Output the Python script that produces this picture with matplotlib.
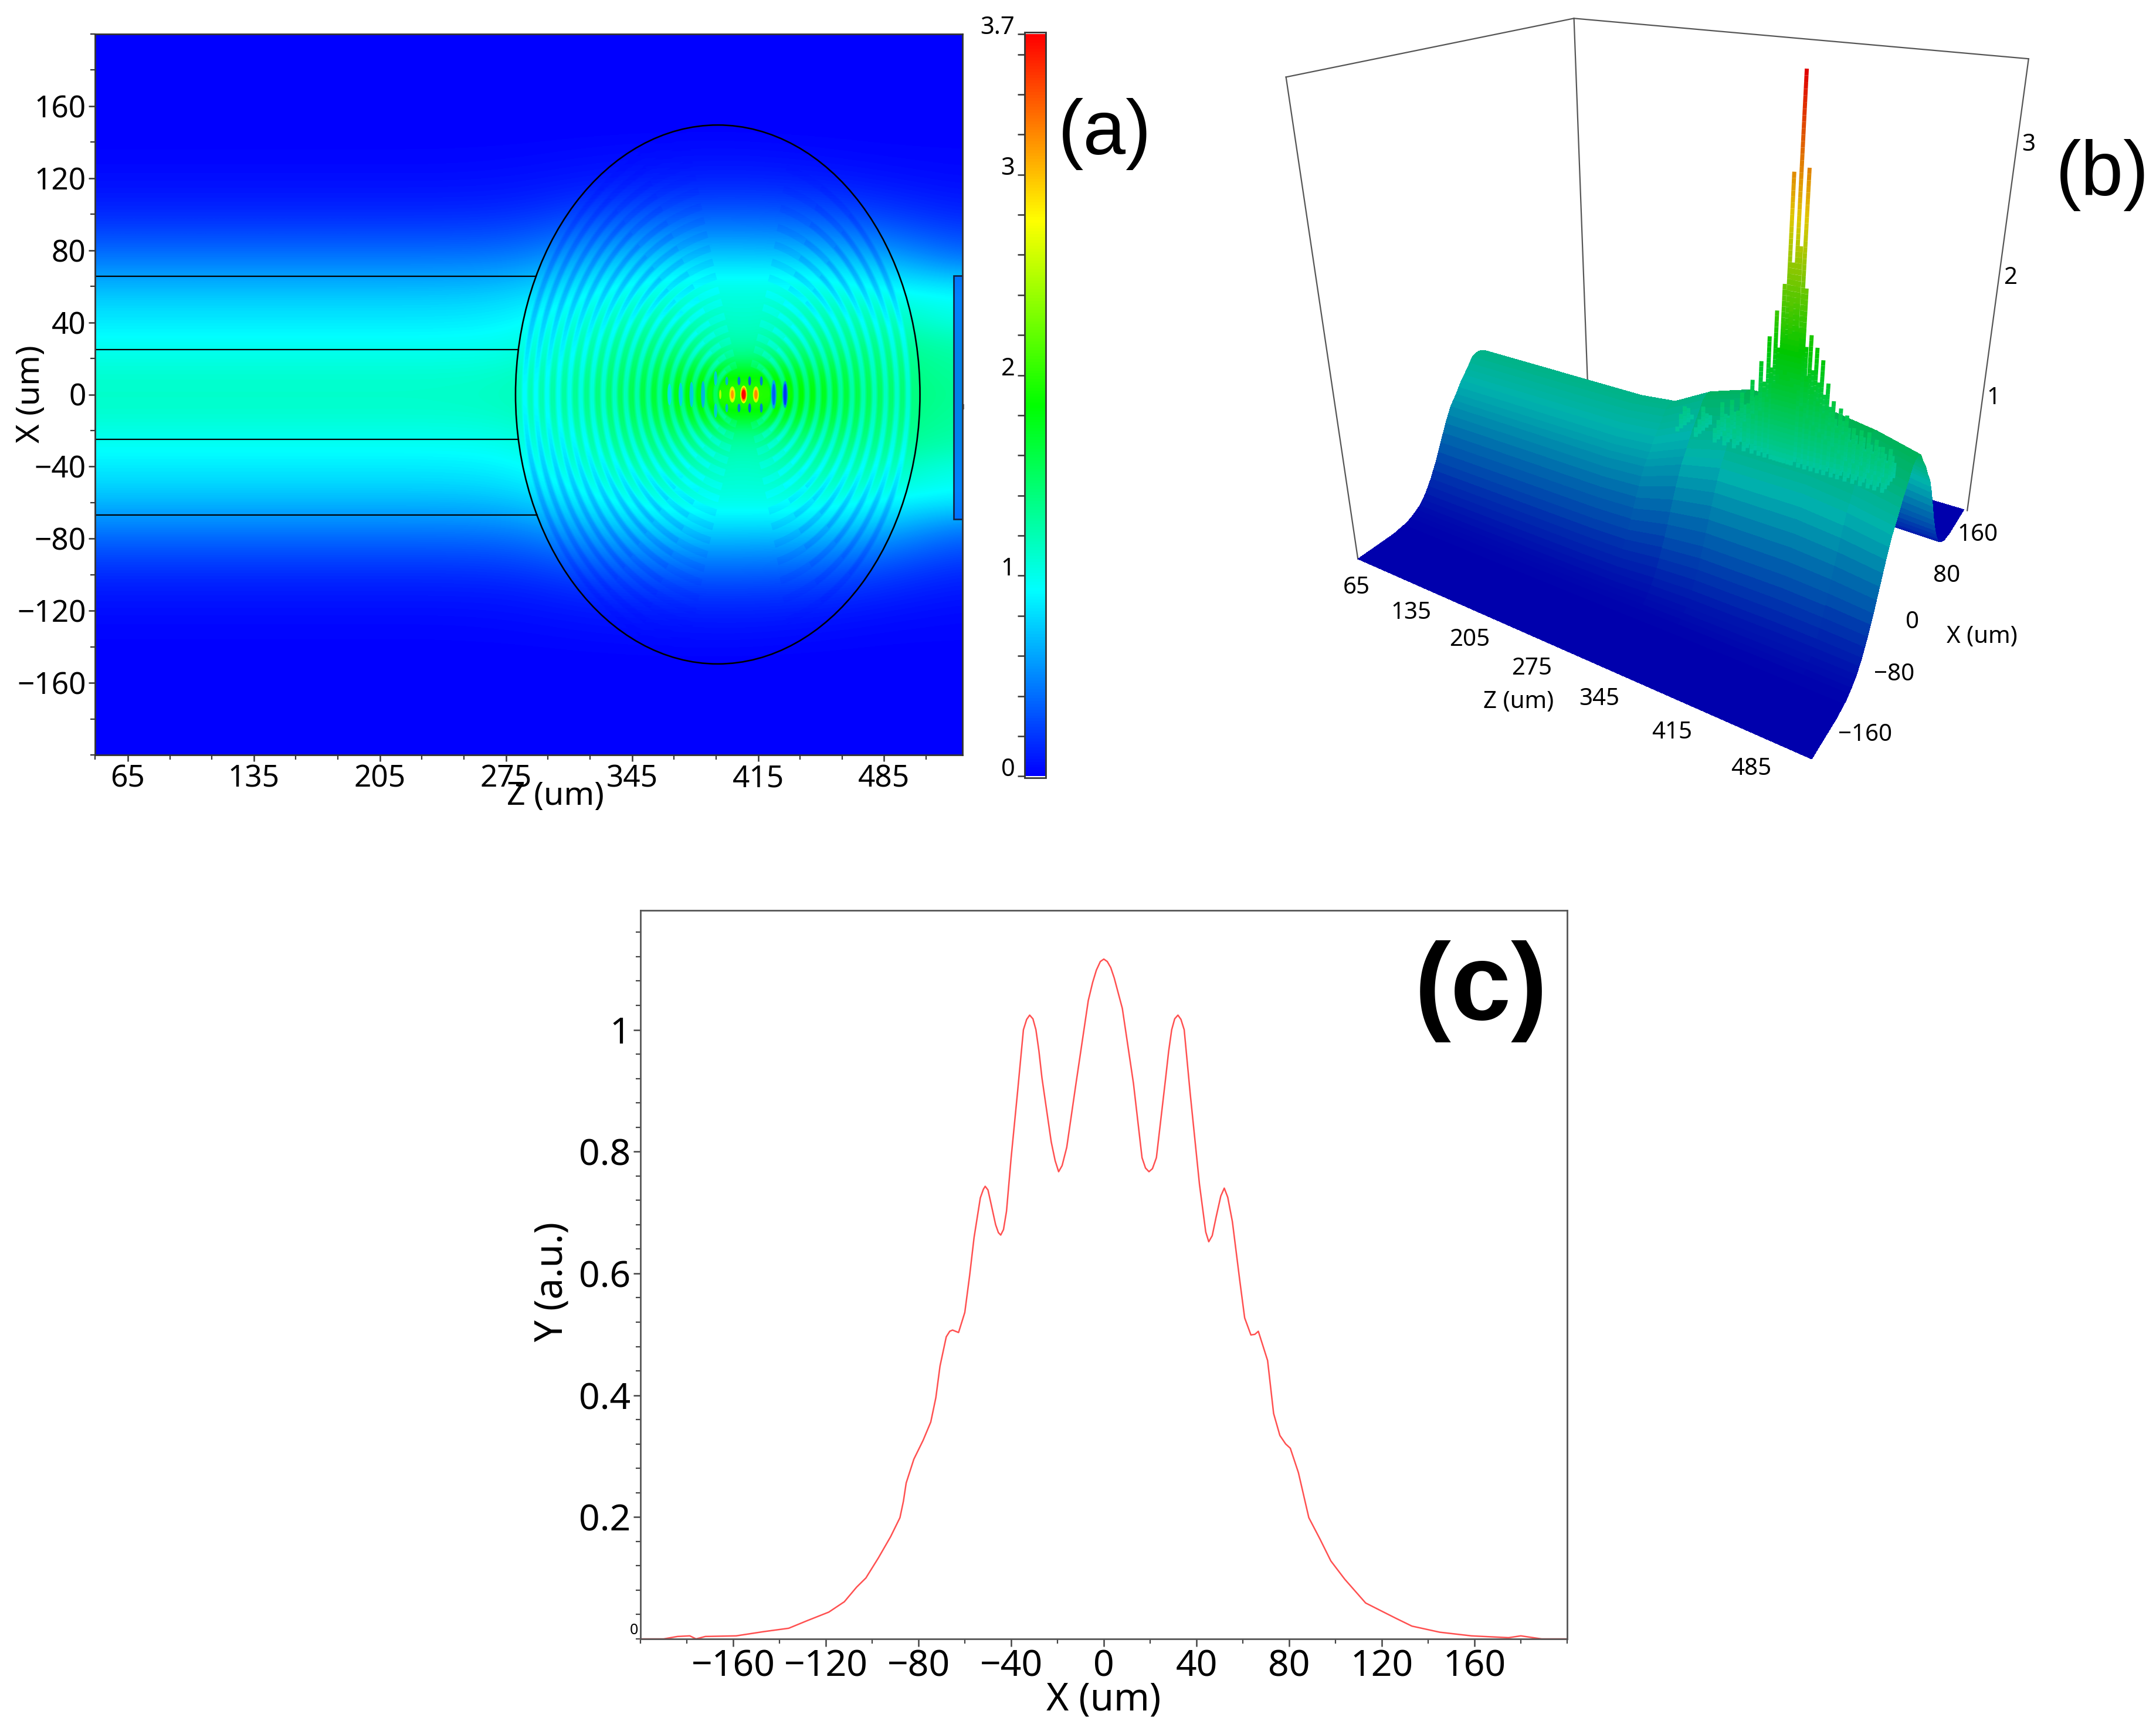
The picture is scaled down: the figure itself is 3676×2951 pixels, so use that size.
import numpy as np
import matplotlib
matplotlib.use("Agg")
import matplotlib.pyplot as plt
from matplotlib.colors import LinearSegmentedColormap, Normalize
from matplotlib.patches import Ellipse, Rectangle
from matplotlib.path import Path
from matplotlib.ticker import MultipleLocator, FixedLocator
from mpl_toolkits.mplot3d import proj3d
from mpl_toolkits.mplot3d.art3d import Line3DCollection

plt.rcParams['font.family'] = ['Noto Sans', 'DejaVu Sans']

W, H = 3676, 2951

# panel (a): field read at stations along Z, half profile over X = 0, 10, ... 150
z_stations = [45, 85, 125, 165, 205, 245, 285, 325, 365, 405, 445, 485, 525]
x_half = list(range(0, 210, 10))
beam_in = [1.12, 1.10, 1.02, .95, .86, .78, .66, .52, .38, .26, .16, .09, .05, .02, .01, 0]
st_285 = [1.15, 1.13, 1.05, .98, .90, .82, .70, .55, .40, .28, .18, .10, .06, .03, .01, 0]
st_325 = [1.38, 1.35, 1.28, 1.22, 1.12, 1.02, .90, .75, .58, .42, .28, .17, .09, .05, .02, 0]
st_365 = [1.75, 1.68, 1.55, 1.42, 1.28, 1.12, 1.00, .85, .68, .50, .34, .21, .12, .06, .03, 0]
st_405 = [2.15, 1.95, 1.32, 1.12, 1.06, 1.05, 1.00, .85, .68, .50, .35, .22, .13, .07, .03, 0]
st_445 = [1.85, 1.75, 1.55, 1.38, 1.25, 1.12, 1.00, .85, .65, .48, .32, .20, .11, .05, .02, 0]
st_485 = [1.45, 1.42, 1.38, 1.30, 1.20, 1.08, .90, .75, .55, .38, .24, .14, .07, .03, .01, 0]
st_525 = [1.30, 1.28, 1.25, 1.18, 1.02, .95, .82, .55, .36, .24, .14, .08, .04, .02, .01, 0]
far_rows = [0, 0, 0, 0, 0]

# dark fringes: where each crosses the axis (distance from the focus) and its half height
focus_z = 407
ring_left_a = [15.6, 21.8, 28.0, 34.3, 40.5, 46.8, 53.0, 59.2, 65.5, 71.7, 78.0,
               84.2, 90.4, 96.7, 102.9, 109.2, 115.4, 121.6]
ring_left_b = [17, 24, 31, 38, 45, 53, 60, 68, 76, 84, 92, 100, 108, 117, 125, 133, 142, 150]
ring_right_a = [16.6, 22.8, 29.0, 35.2, 41.5, 47.7, 53.9, 60.2, 66.4, 72.6, 78.9, 85.1, 91.3]
ring_right_b = [18, 26, 33, 41, 50, 58, 67, 76, 86, 96, 107, 118, 130]

# bright spots on the axis: z, half width, half height, value
spot_z = [394.0, 400.7, 400.7, 400.7, 407.0, 407.0, 407.0, 413.8, 413.8, 413.8]
spot_w = [0.6, 1.7, 1.2, 0.8, 1.9, 1.5, 1.1, 1.7, 1.3, 0.9]
spot_h = [2.6, 4.5, 3.6, 2.4, 4.9, 3.9, 2.8, 4.5, 3.6, 2.6]
spot_v = [2.5, 2.55, 2.85, 3.15, 2.7, 3.2, 3.7, 2.55, 2.9, 3.2]

# dark bars around the focus: z, x, half width, half height, value
bar_z = [423.7, 423.7, 430.0, 430.0, 416.8, 416.8, 410.3, 410.3, 404.4, 404.4, 397.6, 397.6,
         391.4, 391.4, 384.4, 378.0, 372.0, 365.8]
bar_x = [0, 0, 0, 0, 7.5, -7.5, 7.5, -7.5, 7.5, -7.5, 7.5, -7.5, 9, -9, 0, 0, 0, 0]
bar_w = [1.5, 0.9, 1.5, 0.9, 0.8, 0.8, 0.8, 0.8, 0.8, 0.8, 0.8, 0.8, 0.9, 0.9, 1.1, 1.1, 1.1, 1.1]
bar_h = [8.0, 6.0, 7.5, 6.0, 2.6, 2.6, 2.6, 2.6, 2.4, 2.4, 2.4, 2.4, 4.0, 4.0, 7.5, 7.0, 6.5, 6.0]
bar_v = [.55, .28, .45, .12, .35, .35, .25, .25, .35, .35, .6, .6, .7, .7, .6, .7, .75, .8]

# panel (b): beam cross section and how high the ridge stands at each Z station
ridge_x = [0, 5, 10, 15, 20, 25, 30, 35, 40, 45, 50, 55, 60, 65, 70, 75, 80, 85, 90, 95, 100,
           105, 110, 115, 120, 125, 130, 135, 140, 145, 150, 175, 200]
ridge_y = [1.12, 1.115, 1.10, 1.06, 1.02, .985, .95, .905, .86, .82, .78, .72, .66, .59, .52, .45, .38, .32,
           .26, .21, .16, .125, .09, .07, .05, .035, .02, .015, .01, .005, 0, 0, 0]
ridge_gain = [1, 1, 1, 1, 1, 1, 1.03, 1.18, 1.27, 1.27, 1.27, 1.22, 1.14]

spike_z = [300, 320, 340, 350, 360, 370, 378, 385, 391, 397, 400.7, 404, 407, 410, 413.8, 417,
           424, 430, 436, 442, 448, 455, 461, 468, 475, 482, 489, 495, 502]
spike_h = [1.18, 1.22, 1.28, 1.34, 1.42, 1.55, 1.72, 1.92, 2.10, 2.30, 3.05, 2.45, 3.70, 2.60, 3.10,
           2.30, 2.00, 1.92, 1.82, 1.68, 1.55, 1.50, 1.45, 1.40, 1.40, 1.36, 1.35, 1.30, 1.28]
spike_side_h = [1.12, 1.15, 1.18, 1.22, 1.28, 1.36, 1.45, 1.58, 1.72, 1.85, 2.05, 1.95, 2.20, 2.00,
                2.00, 1.85, 1.70, 1.62, 1.55, 1.46, 1.40, 1.36, 1.34, 1.30, 1.30, 1.26, 1.26, 1.24, 1.22]
spike_far_h = [1.05, 1.08, 1.12, 1.15, 1.20, 1.25, 1.32, 1.40, 1.50, 1.60, 1.68, 1.70, 1.75, 1.70,
               1.68, 1.60, 1.50, 1.44, 1.38, 1.32, 1.28, 1.25, 1.22, 1.20, 1.20, 1.18, 1.16, 1.14, 1.12]

# panel (c): profile
prof_x = [-200, -198, -190, -184, -178.7, -176, -172, -158.7, -146.7, -136, -128, -118.7, -112, -106.7,
          -102.7, -97.3, -92, -88, -86.5, -85.3, -82, -78, -74.7, -72.5, -70.7, -68, -66.5, -65.3, -62.7, -60, -57.9,
          -56, -53.3, -52, -51.2, -50, -49, -46.7, -45.5, -44.5, -43.3, -42, -40, -37.3, -34.7, -33.3, -32, -30.6,
          -29.3, -28, -26.7, -22.7, -21, -19.5, -18, -16, -12, -6.7, -4.8, -3.2, -1.5, 0, 1.5, 3, 4.5, 8, 12.8, 16.5,
          18, 19.5, 21, 22.7, 26.7, 28, 29.3, 30.6, 32, 33.3, 34.7, 37.3, 41.3, 44, 45.3, 46.8,
          48.5, 50.5, 52, 53.5, 55.5, 58.7, 60.8, 63.5, 65.2, 66.7, 70.7, 73.3, 76, 78.5, 80.5, 84, 88.5, 93.3, 98, 104, 113, 120,
          126, 133, 145, 158.7, 174.7, 180, 189, 200]
prof_y = [0, 0, 0, .004, .005, 0, .004, .005, .012, .0175, .03, .044, .061, .085,
          .1, .133, .168, .199, .226, .256, .295, .326, .356, .396, .448, .496, .505, .507, .503, .536, .597,
          .659, .724, .738, .743, .737, .72, .68, .667, .663, .672, .702, .79, .895, 1.0, 1.017, 1.024, 1.018,
          1.0, .965, .921, .816, .785, .767, .777, .807, .912, 1.048, 1.078, 1.098, 1.112, 1.116, 1.112, 1.102, 1.085, 1.035, .912, .79,
          .773, .767, .772, .79, .921, .965, 1.0, 1.018, 1.024, 1.017, 1.0, .895, .746, .668, .652, .662,
          .693, .727, .74, .725, .685, .588, .527, .499, .5, .505, .457, .37, .334, .32, .313, .273, .199, .164, .128, .098, .059, .0455,
          .034, .021, .011, .005, .002, .005, 0, 0]

cmap = LinearSegmentedColormap.from_list("field", ["#0000ff", "#00ffff", "#00ff00", "#ffff00", "#ff0000"])
norm = Normalize(0, 3.7)


def px_axes(x0, y0, x1, y1, **kw):
    return fig.add_axes([x0 / W, 1 - y1 / H, (x1 - x0) / W, (y1 - y0) / H], **kw)


def arc_band(a, b, half_w, middle, spread):
    t = np.radians(np.linspace(middle - spread, middle + spread, 60))
    outer = np.column_stack([focus_z + (a + half_w) * np.cos(t), (b + half_w) * np.sin(t)])
    inner = np.column_stack([focus_z + (a - half_w) * np.cos(t), (b - half_w) * np.sin(t)])[::-1]
    verts = np.vstack([outer, inner, outer[:1]])
    codes = [Path.MOVETO] + [Path.LINETO] * (len(verts) - 2) + [Path.CLOSEPOLY]
    return Path(verts, codes)


def label3d(x, y, z, s, **kw):
    # 3d text reports odd extents, so project first and place it as plain 2d text
    px, py, _ = proj3d.proj_transform(x, y, z, ax3.get_proj())
    ax3.text2D(px, py, s, transform=ax3.transData, fontsize=29, va='center', **kw)


fig = plt.figure(figsize=(W / 100, H / 100), dpi=100)

half = np.column_stack([beam_in + far_rows] * 6 + [s + far_rows for s in
                       (st_285, st_325, st_365, st_405, st_445, st_485, st_525)])
field = np.vstack([half[:0:-1], half])

# --- (a)
ax = px_axes(162, 58, 1641, 1287)
dz = 40
extent = (z_stations[0] - dz / 2, z_stations[-1] + dz / 2, -205, 205)
im = ax.imshow(field, origin='lower', extent=extent, cmap=cmap, norm=norm, aspect='auto', interpolation='bicubic')

for scale, half_w, spread in [(.93, 2.0, 75), (.85, 1.45, 62), (.78, .95, 50)]:
    paths = [arc_band(a, b, half_w, 180, spread) for a, b in zip(ring_left_a, ring_left_b)]
    paths += [arc_band(a, b, half_w, 0, spread) for a, b in zip(ring_right_a, ring_right_b)]
    dark = ax.imshow(field * scale, origin='lower', extent=extent, cmap=cmap, norm=norm, aspect='auto',
                     interpolation='bicubic')
    dark.set_clip_path(Path.make_compound_path(*paths), ax.transData)

for z, x, w, h, v in zip(bar_z, bar_x, bar_w, bar_h, bar_v):
    ax.add_patch(Ellipse((z, x), 2 * w, 2 * h, fc=cmap(norm(v)), ec='none', alpha=.8))
for z, w, h, v in zip(spot_z, spot_w, spot_h, spot_v):
    ax.add_patch(Ellipse((z, 0), 2 * w, 2 * h, fc=cmap(norm(v)), ec='none'))

lens_z, lens_a, lens_b = 392.6, 112.3, 149.5
ax.add_patch(Ellipse((lens_z, 0), 2 * lens_a, 2 * lens_b, fc='none', ec='black', lw=1.9))
for x in [65.5, 25.0, -25.0, -67.0]:
    ax.plot([40, lens_z - lens_a * np.sqrt(1 - (x / lens_b) ** 2)], [x, x], color='black', lw=1.6)
ax.add_patch(Rectangle((523.5, -69), 8, 135, fc=(0, .38, 1, .8), ec='#102040', lw=1.9))
ax.plot([1.0015, 1.0015], [.48, .486], transform=ax.transAxes, color='#777777', lw=1.5, clip_on=False)

ax.set_xlim(46.76, 528.5)
ax.set_ylim(-200, 200)
ax.set_xticks(range(65, 486, 70))
ax.set_yticks(range(-160, 161, 40))
ax.xaxis.set_minor_locator(FixedLocator([46.76, 88.3, 111.7, 158.3, 181.7, 228.3, 251.7, 298.3, 321.7, 368.3,
                                         391.7, 438.3, 461.7, 508.3]))
ax.yaxis.set_minor_locator(MultipleLocator(20))
ax.tick_params(which='major', length=8, width=1.8, labelsize=37, pad=3, color='#333333')
ax.tick_params(which='minor', length=6, width=1.6, color='#333333')
for s in ax.spines.values():
    s.set_linewidth(2)
    s.set_color('#333333')
fig.text(947 / W, 1 - 1357 / H, "Z (um)", fontsize=40, ha='center', va='center')
fig.text(52 / W, 1 - 672 / H, "X (um)", fontsize=40, ha='center', va='center', rotation=90)
fig.text(1884 / W, 1 - 228 / H, "(a)", family='Liberation Sans', fontsize=94, ha='center', va='center')

cax = px_axes(1747, 55, 1783, 1326)
cb = fig.colorbar(im, cax=cax)
cax.yaxis.set_ticks_position('left')
cb.set_ticks([0, 1, 2, 3, 3.7], labels=['0', '1', '2', '3', '3.7'])
cb.ax.yaxis.set_minor_locator(FixedLocator([.2, .4, .6, .8, 1.2, 1.4, 1.6, 1.8, 2.2, 2.4, 2.6, 2.8, 3.2, 3.4, 3.6]))
cax.set_ylim(-.008, 3.71)
cax.tick_params(which='major', length=9, width=1.8, labelsize=30, pad=3, color='#333333')
cax.tick_params(which='minor', length=9, width=1.8, color='#333333')
for lab in cax.get_yticklabels():
    lab.set_va('baseline')
cb.outline.set_linewidth(2)
cb.outline.set_edgecolor('#333333')

# --- (b)
ax3 = fig.add_axes([1970 / W, 1 - 1322 / H, 1726 / W, 1500 / H], projection='3d', computed_zorder=False)
ax3.set_axis_off()
ax3.set_xticks([])
ax3.set_yticks([])
ax3.set_zticks([])
zl, zr = 46.76, 528.5
vmax3 = 3.6
ax3.set_xlim(zl, zr)
ax3.set_ylim(-200, 200)
ax3.set_zlim(0, vmax3)
ax3.set_box_aspect((1.25, 1.0, 1.2), zoom=.93)
ax3.view_init(elev=24, azim=-59)
ax3.set_proj_type('persp', focal_length=0.22)

box = '#555555'
ax3.plot([zl, zl], [200, 200], [0, vmax3], color=box, lw=1.6, zorder=1)
ax3.plot([zl, zl], [-200, -200], [0, vmax3], color=box, lw=1.6, zorder=1)
ax3.plot([zr, zr], [200, 200], [0, vmax3], color=box, lw=1.6, zorder=1)
ax3.plot([zl, zl], [-200, 200], [vmax3, vmax3], color=box, lw=1.6, zorder=1)
ax3.plot([zl, zr], [200, 200], [vmax3, vmax3], color=box, lw=1.6, zorder=1)

rows = [-v for v in ridge_x[:0:-1]] + ridge_x
heights3 = np.array(ridge_y[:0:-1] + ridge_y)
Zg, Xg = np.meshgrid(np.clip(z_stations, zl, zr), rows)
ridge = np.outer(heights3, ridge_gain)
face = cmap(norm(ridge)) * np.array([.70, .70, .68, 1])
ax3.plot_surface(Zg, Xg, ridge, facecolors=face, rstride=1, cstride=1, shade=False, antialiased=False,
                 linewidth=0, zorder=2)

segs, cols = [], []
for x_off, heights in [(14, spike_far_h), (7, spike_side_h), (0, spike_h), (-7, spike_side_h), (-14, spike_far_h)]:
    for z, h in zip(spike_z, heights):
        levels = np.arange(1.0, h, .04)
        for lo, up in zip(levels[:-1], levels[1:]):
            segs.append([(z, x_off, lo), (z, x_off, up)])
            cols.append(np.array(cmap(norm(up))) * np.array([.88, .78, .70, 1]))
ax3.add_collection3d(Line3DCollection(segs, colors=cols, linewidths=5, zorder=3))

for t in range(65, 486, 70):
    label3d(t, -222, -.1, str(t), ha='center')
for t in range(-160, 161, 80):
    label3d(zr + 2, t, -.05, str(t).replace('-', '\u2212'), ha='left')
for t in [1, 2, 3]:
    label3d(zr + 2, 210, t, str(t), ha='left')
label3d(290, -260, -.1, "Z (um)", ha='center')
label3d(zr + 40, 0, -.05, "X (um)", ha='left')
fig.text(3585 / W, 1 - 298 / H, "(b)", family='Liberation Sans', fontsize=94, ha='center', va='center')

# --- (c)
axc = px_axes(1092, 1552, 2672, 2794)
axc.plot(prof_x, prof_y, color='#ff5050', lw=1.8, clip_on=False)
axc.set_xlim(-200, 200)
axc.set_ylim(0, 1.196)
axc.set_xticks(range(-160, 161, 40))
axc.set_yticks([.2, .4, .6, .8, 1])
axc.set_yticklabels(['0.2', '0.4', '0.6', '0.8', '1'])
axc.xaxis.set_minor_locator(MultipleLocator(20))
axc.yaxis.set_minor_locator(MultipleLocator(.04))
axc.tick_params(which='major', length=9, width=1.8, labelsize=45, pad=3, color='#444444')
axc.tick_params(which='minor', length=6, width=1.6, color='#444444')
for s in axc.spines.values():
    s.set_linewidth(2)
    s.set_color('#555555')
fig.text(1081 / W, 1 - 2780 / H, "0", fontsize=18, ha='center', va='center')
fig.text(1882 / W, 1 - 2898 / H, "X (um)", fontsize=47, ha='center', va='center')
fig.text(942 / W, 1 - 2185 / H, "Y (a.u.)", fontsize=47, ha='center', va='center', rotation=90)
fig.text(2525 / W, 1 - 1690 / H, "(c)", family='Liberation Sans', fontsize=134, weight='bold', ha='center', va='center')

fig.savefig("out.png", dpi=100)
